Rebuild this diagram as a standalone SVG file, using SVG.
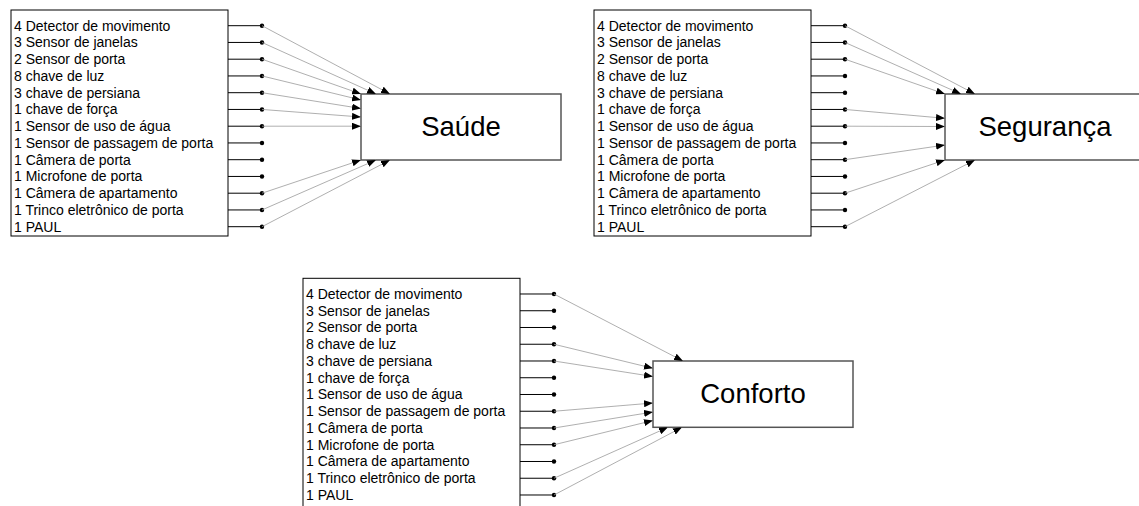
<svg xmlns="http://www.w3.org/2000/svg" width="1139" height="506" viewBox="0 0 1139 506">
<style>
.lbl{font-family:"Liberation Sans",Arial,sans-serif;font-size:14px;fill:#000}
.big{font-family:"Liberation Sans",Arial,sans-serif;font-size:27.5px;fill:#000;text-anchor:middle}
.lbox{fill:#fff;stroke:#000;stroke-width:1}
.tbox{fill:#fff;stroke:#555;stroke-width:1.5}
.stub{stroke:#000;stroke-width:1}
.dot{fill:#000}
.con{stroke:#9a9a9a;stroke-width:0.8;fill:none;marker-end:url(#arr)}
</style>
<defs>
<marker id="arr" markerUnits="userSpaceOnUse" markerWidth="9" markerHeight="7" refX="9" refY="3.5" orient="auto">
<path d="M0,0 L9,3.5 L0,7 z" fill="#000"/>
</marker>
<g id="rows">
<text class="lbl" x="14" y="30.7">4 Detector de movimento</text>
<text class="lbl" x="14" y="47.45">3 Sensor de janelas</text>
<text class="lbl" x="14" y="64.2">2 Sensor de porta</text>
<text class="lbl" x="14" y="80.95">8 chave de luz</text>
<text class="lbl" x="14" y="97.7">3 chave de persiana</text>
<text class="lbl" x="14" y="114.45">1 chave de força</text>
<text class="lbl" x="14" y="131.2">1 Sensor de uso de água</text>
<text class="lbl" x="14" y="147.95">1 Sensor de passagem de porta</text>
<text class="lbl" x="14" y="164.7">1 Câmera de porta</text>
<text class="lbl" x="14" y="181.45">1 Microfone de porta</text>
<text class="lbl" x="14" y="198.2">1 Câmera de apartamento</text>
<text class="lbl" x="14" y="214.95">1 Trinco eletrônico de porta</text>
<text class="lbl" x="14" y="231.7">1 PAUL</text>
<path class="stub" d="M228,25.7H262M228,42.45H262M228,59.2H262M228,75.95H262M228,92.7H262M228,109.45H262M228,126.2H262M228,142.95H262M228,159.7H262M228,176.45H262M228,193.2H262M228,209.95H262M228,226.7H262"/>
<g class="dot">
<circle cx="262" cy="25.7" r="2.2"/><circle cx="262" cy="42.45" r="2.2"/><circle cx="262" cy="59.2" r="2.2"/><circle cx="262" cy="75.95" r="2.2"/><circle cx="262" cy="92.7" r="2.2"/><circle cx="262" cy="109.45" r="2.2"/><circle cx="262" cy="126.2" r="2.2"/><circle cx="262" cy="142.95" r="2.2"/><circle cx="262" cy="159.7" r="2.2"/><circle cx="262" cy="176.45" r="2.2"/><circle cx="262" cy="193.2" r="2.2"/><circle cx="262" cy="209.95" r="2.2"/><circle cx="262" cy="226.7" r="2.2"/>
</g>
</g>
</defs>

<g id="list-saude">
<rect class="lbox" x="11" y="10" width="217" height="226"/>
<use href="#rows"/>
</g>
<g id="list-seguranca" transform="translate(583,0)">
<rect class="lbox" x="11" y="10" width="217" height="226"/>
<use href="#rows"/>
</g>
<g id="list-conforto" transform="translate(292,268.3)">
<rect class="lbox" x="11" y="10" width="217" height="232"/>
<use href="#rows"/>
</g>

<g id="node-saude">
<rect class="tbox" x="361" y="94" width="200" height="66"/>
<text class="big" x="461" y="135.5">Saúde</text>
</g>
<g id="node-seguranca">
<rect class="tbox" x="945" y="94" width="200" height="66"/>
<text class="big" x="1045" y="135.5">Segurança</text>
</g>
<g id="node-conforto">
<rect class="tbox" x="653" y="361" width="200" height="66.3"/>
<text class="big" x="753" y="403">Conforto</text>
</g>

<g id="connectors">
<line class="con" x1="262" y1="25.7" x2="390" y2="94"/>
<line class="con" x1="262" y1="42.45" x2="376" y2="94"/>
<line class="con" x1="262" y1="59.2" x2="361" y2="94"/>
<line class="con" x1="262" y1="75.95" x2="361" y2="100"/>
<line class="con" x1="262" y1="92.7" x2="361" y2="108.5"/>
<line class="con" x1="262" y1="109.45" x2="361" y2="117"/>
<line class="con" x1="262" y1="126.2" x2="361" y2="126.2"/>
<line class="con" x1="262" y1="193.2" x2="361" y2="160"/>
<line class="con" x1="262" y1="209.95" x2="376" y2="160"/>
<line class="con" x1="262" y1="226.7" x2="390" y2="160"/>

<line class="con" x1="845" y1="25.7" x2="975" y2="94"/>
<line class="con" x1="845" y1="42.45" x2="961" y2="94"/>
<line class="con" x1="845" y1="59.2" x2="945" y2="94"/>
<line class="con" x1="845" y1="109.45" x2="945" y2="118.3"/>
<line class="con" x1="845" y1="126.2" x2="945" y2="126.5"/>
<line class="con" x1="845" y1="159.7" x2="945" y2="145"/>
<line class="con" x1="845" y1="193.2" x2="945" y2="160"/>
<line class="con" x1="845" y1="226.7" x2="975" y2="160"/>

<line class="con" x1="554" y1="294" x2="683" y2="361"/>
<line class="con" x1="554" y1="344.25" x2="653" y2="368.3"/>
<line class="con" x1="554" y1="361" x2="653" y2="376.5"/>
<line class="con" x1="554" y1="411.25" x2="653" y2="403"/>
<line class="con" x1="554" y1="428" x2="653" y2="412"/>
<line class="con" x1="554" y1="444.75" x2="653" y2="420.5"/>
<line class="con" x1="554" y1="478.25" x2="668" y2="427.3"/>
<line class="con" x1="554" y1="495" x2="682" y2="427.3"/>
</g>
</svg>
